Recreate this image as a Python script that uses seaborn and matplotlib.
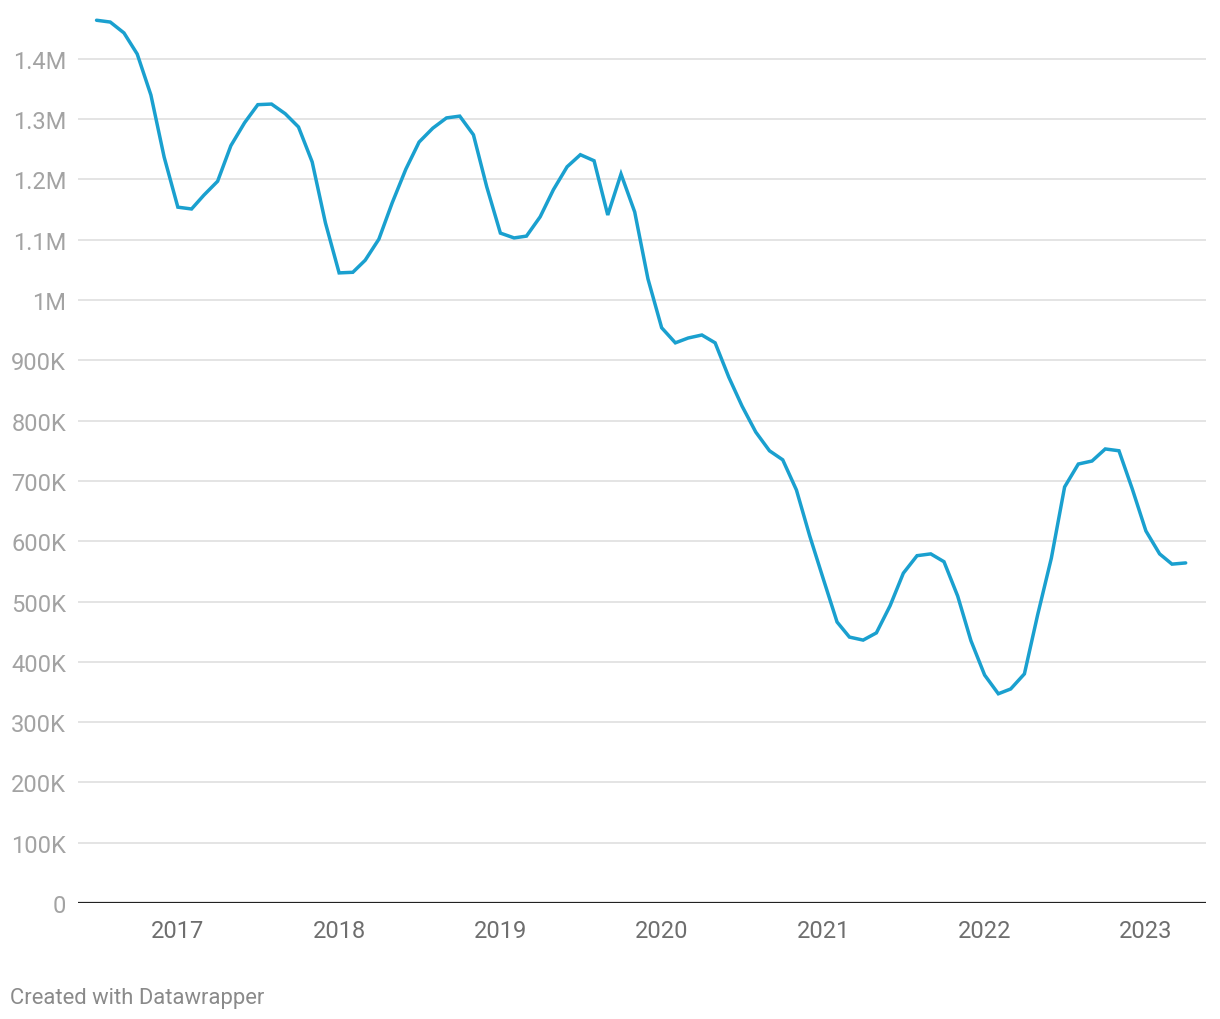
import matplotlib
matplotlib.use("Agg")
import matplotlib.pyplot as plt
import seaborn as sns
import pandas as pd

start_month = "2016-07-01"
values = [
    1.464e6, 1.461e6, 1.443e6, 1.408e6, 1.340e6, 1.237e6, 1.154e6, 1.151e6,
    1.174e6, 1.197e6, 1.256e6, 1.294e6, 1.324e6, 1.325e6, 1.309e6, 1.287e6,
    1.229e6, 1.128e6, 1.045e6, 1.046e6, 1.066e6, 1.101e6, 1.161e6, 1.217e6,
    1.262e6, 1.285e6, 1.302e6, 1.305e6, 1.274e6, 1.188e6, 1.111e6, 1.103e6,
    1.106e6, 1.138e6, 1.183e6, 1.221e6, 1.241e6, 1.231e6, 1.141e6, 1.209e6,
    1.146e6, 1.035e6, 0.954e6, 0.929e6, 0.937e6, 0.942e6, 0.929e6, 0.872e6,
    0.824e6, 0.781e6, 0.750e6, 0.735e6, 0.685e6, 0.609e6, 0.537e6, 0.466e6,
    0.441e6, 0.436e6, 0.448e6, 0.493e6, 0.547e6, 0.576e6, 0.579e6, 0.566e6,
    0.509e6, 0.435e6, 0.378e6, 0.347e6, 0.355e6, 0.380e6, 0.478e6, 0.572e6,
    0.690e6, 0.728e6, 0.733e6, 0.753e6, 0.750e6, 0.687e6, 0.617e6, 0.579e6,
    0.562e6, 0.564e6,
]
dates = pd.date_range(start_month, periods=len(values), freq="MS")

y_ticks = [0, 100e3, 200e3, 300e3, 400e3, 500e3, 600e3, 700e3, 800e3, 900e3,
           1.0e6, 1.1e6, 1.2e6, 1.3e6, 1.4e6]
y_labels = ["0", "100K", "200K", "300K", "400K", "500K", "600K", "700K",
            "800K", "900K", "1M", "1.1M", "1.2M", "1.3M", "1.4M"]
x_years = [2017, 2018, 2019, 2020, 2021, 2022, 2023]
footer = "Created with Datawrapper"

df = pd.DataFrame({"date": dates, "value": values})

sns.set_theme(style="white")
plt.rcParams["font.family"] = ["Roboto", "DejaVu Sans"]

W, H = 1220, 1020
fig = plt.figure(figsize=(W / 100, H / 100), dpi=100)
ax = fig.add_axes([78 / W, (H - 904) / H, (1206 - 78) / W, (904 - 11.6) / H])

sns.lineplot(data=df, x="date", y="value", ax=ax, color="#1aa0cf",
             linewidth=2.5, solid_joinstyle="miter")

ax.set_ylim(0, 1.48e6)
ax.set_xlim(pd.Timestamp("2016-05-20"), pd.Timestamp("2023-05-17"))

ax.set_yticks(y_ticks)
ax.set_yticklabels(y_labels)
ax.set_xticks([pd.Timestamp(f"{y}-01-01") for y in x_years])
ax.set_xticklabels([str(y) for y in x_years])

for t in y_ticks[1:]:
    ax.axhline(t, color="#e2e2e2", linewidth=1.3, zorder=0)
ax.axhline(0, color="#222222", linewidth=1.6, zorder=3)

for s in ax.spines.values():
    s.set_visible(False)

ax.tick_params(axis="y", length=0, pad=8.5, labelsize=17, labelcolor="#a3a3a3")
ax.tick_params(axis="x", length=0, pad=11.5, labelsize=17, labelcolor="#6e6e6e")
ax.set_xlabel("")
ax.set_ylabel("")

fig.text(10 / W, 1 - 998.5 / H, footer, fontsize=15.8, color="#8a8a8a",
         va="center", ha="left")

fig.savefig("out.png", dpi=100, facecolor="white")
